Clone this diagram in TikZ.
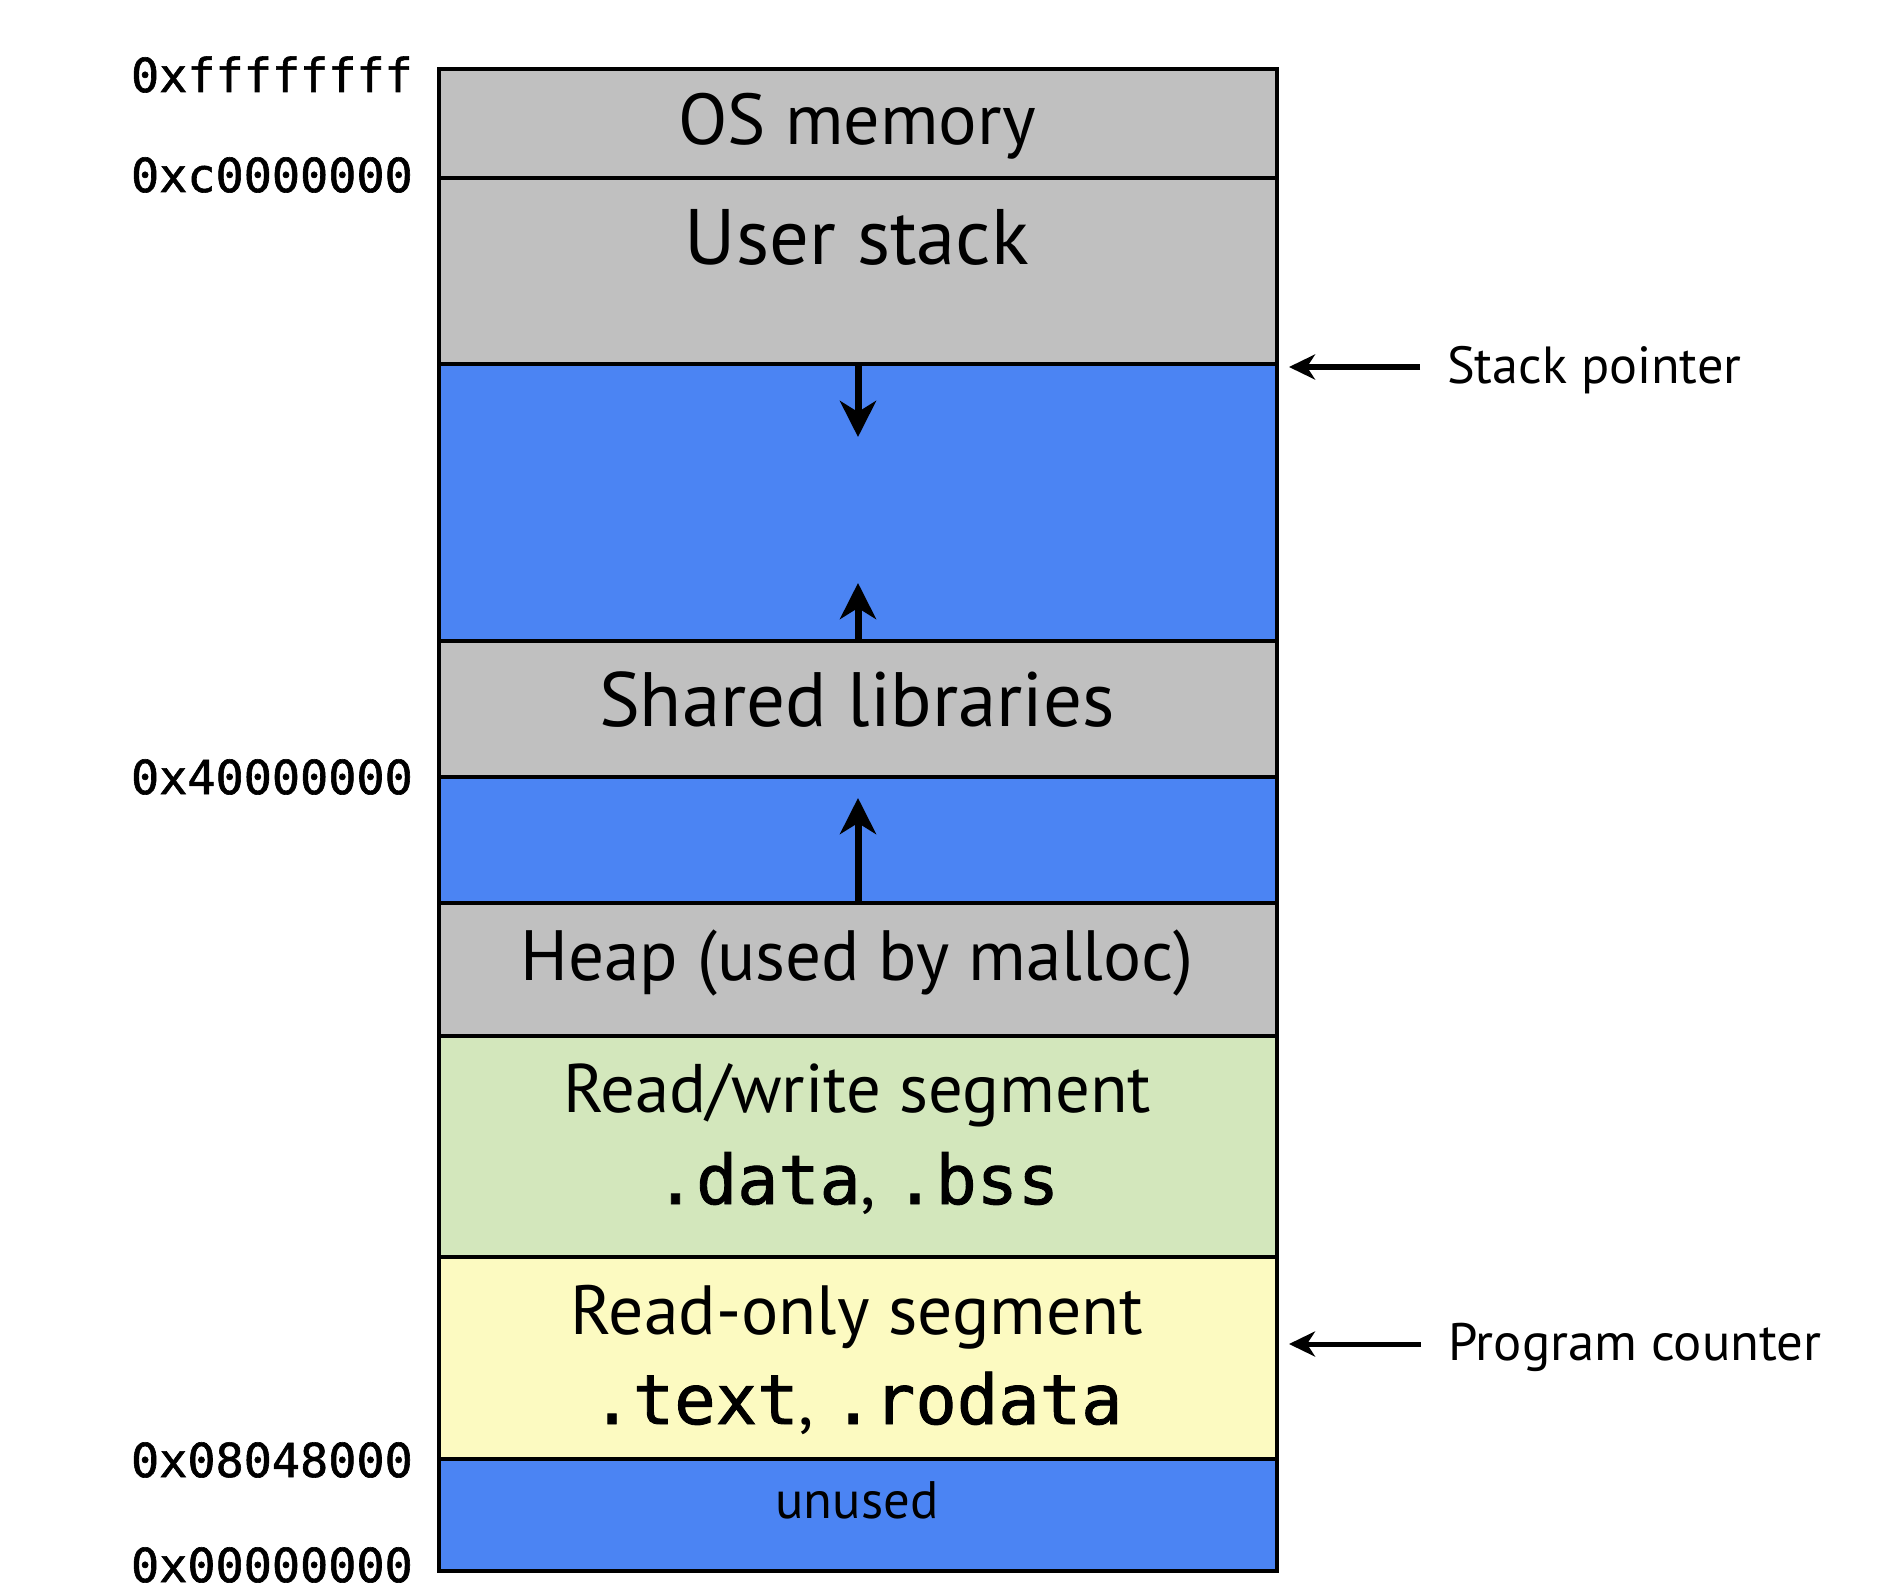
\documentclass[tikz,border=0pt]{standalone}
\usepackage{fontspec}
\setmainfont{PT Sans}
\setmonofont[BoldFont={DejaVu Sans Mono},BoldFeatures={FakeBold=1.3}]{DejaVu Sans Mono}
\usetikzlibrary{arrows.meta}
\definecolor{segGray}{RGB}{192,192,192}
\definecolor{segBlue}{RGB}{75,132,243}
\definecolor{segGreen}{RGB}{211,231,188}
\definecolor{segYellow}{RGB}{252,250,193}
\newcommand{\fw}[2]{\resizebox{#1pt}{!}{#2}}
\newcommand{\code}[1]{\texttt{\bfseries #1}}
\begin{document}
\begin{tikzpicture}[x=1pt,y=-1pt,
  region/.style={draw=black, line width=4.5pt, minimum width=838pt, anchor=north west, inner sep=0pt, outer sep=0pt},
  lbl/.style={anchor=base, inner sep=0pt},
  addr/.style={anchor=base east, inner sep=0pt, font=\ttfamily\bfseries\fontsize{46.8}{50}\selectfont},
  growth/.style={line width=7pt, -{Stealth[length=36pt,width=36pt,inset=11pt]}},
  ptr/.style={line width=5pt, -{Stealth[length=26pt,width=25pt,inset=8pt]}}]
\useasboundingbox (0,0) rectangle (1892,1594);
% regions
\node[region, fill=segGray,   minimum height=109pt] (os)   at (439,69)   {};
\node[region, fill=segGray,   minimum height=186pt] (us)   at (439,178)  {};
\node[region, fill=segBlue,   minimum height=277pt] (gap1) at (439,364)  {};
\node[region, fill=segGray,   minimum height=136pt] (sl)   at (439,641)  {};
\node[region, fill=segBlue,   minimum height=126pt] (gap2) at (439,777)  {};
\node[region, fill=segGray,   minimum height=133pt] (heap) at (439,903)  {};
\node[region, fill=segGreen,  minimum height=221pt] (rw)   at (439,1036) {};
\node[region, fill=segYellow, minimum height=202pt] (ro)   at (439,1257) {};
\node[region, fill=segBlue,   minimum height=112pt] (un)   at (439,1459) {};
% region texts
\node[lbl] (tos)   at (857,145)  {\fw{357}{OS memory}};
\node[lbl] (tus)   at (857,265)  {\fw{344}{User stack}};
\node[lbl] (tsl)   at (857,726)  {\fw{516}{Shared libraries}};
\node[lbl] (theap) at (857,980)  {\fw{673}{Heap (used by malloc)}};
\node[lbl] (trw)   at (857,1112) {\fw{588}{Read/write segment}};
\node[lbl] (trw2)  at (857,1204) {\fw{404}{\code{.data}, \code{.bss}}};
\node[lbl] (tro)   at (857,1334) {\fw{572}{Read-only segment}};
\node[lbl] (tro2)  at (857,1424) {\fw{531}{\code{.text}, \code{.rodata}}};
\node[lbl] (tun)   at (857,1518) {\fw{163}{unused}};
% addresses
\node[addr] (a1) at (413,92)   {0xffffffff};
\node[addr] (a2) at (413,192)  {0xc0000000};
\node[addr] (a3) at (413,794)  {0x40000000};
\node[addr] (a4) at (413,1477) {0x08048000};
\node[addr] (a5) at (413,1582) {0x00000000};
% growth arrows
\draw[growth] (us.south) -- ++(0,73);
\draw[growth] (sl.north) -- ++(0,-58);
\draw[growth] (heap.north) -- ++(0,-105);
% pointers
\node[anchor=base west, inner sep=0pt] (sp) at (1447,384)  {\fw{294}{Stack pointer}};
\node[anchor=base west, inner sep=0pt] (pc) at (1448,1360) {\fw{373}{Program counter}};
\draw[ptr] (sp.base west) ++(-27,-17) -- ++(-131,0);
\draw[ptr] (pc.base west) ++(-27,-16) -- ++(-132,0);
\end{tikzpicture}
\end{document}
